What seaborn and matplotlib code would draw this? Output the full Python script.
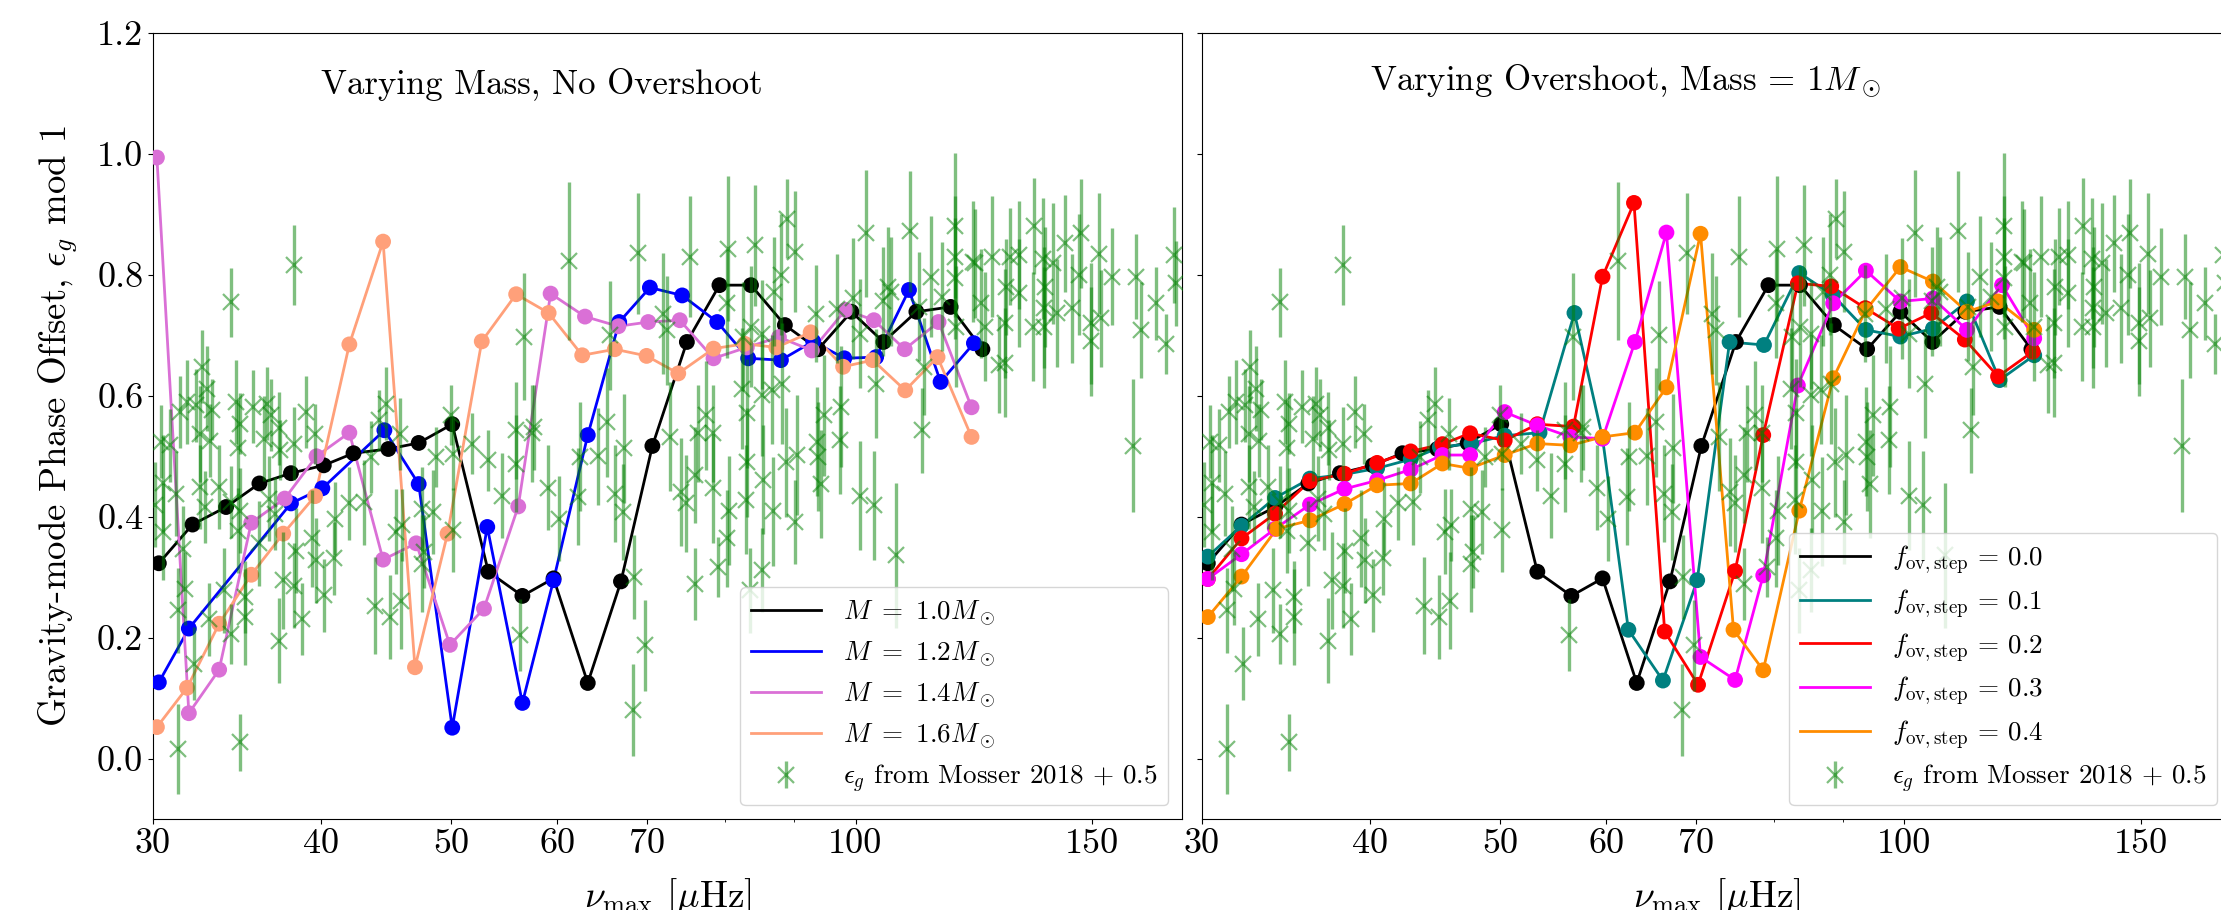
import numpy as np
import pandas as pd
import matplotlib
matplotlib.use("Agg")
import matplotlib.pyplot as plt
import seaborn as sns
from matplotlib.ticker import FixedLocator, FuncFormatter, NullFormatter

plt.rcParams['font.family'] = 'serif'
plt.rcParams['font.serif'] = ['cmr10', 'DejaVu Serif']
plt.rcParams['mathtext.fontset'] = 'cm'
plt.rcParams['axes.formatter.use_mathtext'] = True
plt.rcParams['axes.unicode_minus'] = False

################# model tracks, left panel (varying mass) #################
nu_m10 = [30.3, 32.1, 34.0, 36.0, 38.0, 40.2, 42.3, 44.9, 47.3, 50.1, 53.3, 56.5, 59.6,
          63.2, 66.9, 70.6, 74.9, 79.2, 83.6, 88.6, 93.8, 99.3, 104.9, 111.0, 117.7, 124.3]
eps_m10 = [0.323, 0.387, 0.416, 0.455, 0.472, 0.485, 0.505, 0.512, 0.522, 0.553, 0.309, 0.269, 0.298,
           0.125, 0.293, 0.517, 0.689, 0.783, 0.783, 0.717, 0.677, 0.739, 0.689, 0.739, 0.747, 0.677]

nu_m12 = [30.3, 31.9, 38.0, 40.1, 44.6, 47.3, 50.1, 53.2, 56.5, 59.6, 63.2, 66.7, 70.3,
          74.3, 78.9, 83.2, 88.0, 93.0, 98.1, 103.6, 109.6, 115.7, 122.5]
eps_m12 = [0.126, 0.215, 0.422, 0.447, 0.543, 0.454, 0.051, 0.383, 0.092, 0.295, 0.535, 0.722, 0.779,
           0.766, 0.722, 0.662, 0.659, 0.690, 0.662, 0.664, 0.775, 0.623, 0.687]

nu_m14 = [30.2, 31.9, 33.6, 35.5, 37.6, 39.7, 42.0, 44.5, 47.1, 49.9, 52.9, 56.1, 59.3, 62.9,
          66.6, 70.1, 74.0, 78.4, 83.0, 87.7, 92.8, 98.3, 103.2, 108.8, 115.3, 122.0]
eps_m14 = [0.994, 0.075, 0.147, 0.390, 0.430, 0.500, 0.539, 0.329, 0.356, 0.188, 0.248, 0.417, 0.769, 0.731,
           0.715, 0.722, 0.725, 0.662, 0.680, 0.697, 0.675, 0.742, 0.725, 0.677, 0.722, 0.581]

nu_m16 = [30.2, 31.8, 33.6, 35.5, 37.5, 39.6, 42.0, 44.5, 47.0, 49.7, 52.7, 55.9, 59.1, 62.6,
          66.2, 69.9, 73.8, 78.4, 82.7, 87.3, 92.6, 97.9, 103.0, 108.9, 115.1, 122.0]
eps_m16 = [0.052, 0.117, 0.223, 0.304, 0.372, 0.434, 0.685, 0.855, 0.151, 0.372, 0.690, 0.768, 0.737, 0.667,
           0.677, 0.666, 0.637, 0.678, 0.686, 0.680, 0.705, 0.648, 0.659, 0.609, 0.664, 0.532]

################# model tracks, right panel (varying overshoot) #################
nu_f01 = [30.3, 32.1, 34.0, 36.1, 38.3, 40.5, 42.9, 45.1, 47.6, 50.4, 53.5, 56.8, 59.6,
          62.3, 66.1, 70.1, 74.1, 78.6, 83.5, 88.4, 93.6, 99.3, 105.0, 111.3, 117.7, 124.9]
eps_f01 = [0.334, 0.385, 0.431, 0.463, 0.470, 0.480, 0.495, 0.515, 0.521, 0.534, 0.539, 0.737, 0.530,
           0.213, 0.129, 0.295, 0.689, 0.684, 0.803, 0.767, 0.709, 0.698, 0.711, 0.756, 0.626, 0.667]

nu_f02 = [30.3, 32.1, 34.0, 36.1, 38.3, 40.5, 42.9, 45.3, 47.5, 50.4, 53.3, 56.7, 59.6,
          62.9, 66.3, 70.2, 74.8, 78.5, 83.3, 88.2, 93.5, 99.0, 104.7, 110.9, 117.4, 124.6]
eps_f02 = [0.297, 0.364, 0.405, 0.459, 0.471, 0.489, 0.508, 0.520, 0.538, 0.526, 0.553, 0.549, 0.797,
           0.919, 0.210, 0.122, 0.310, 0.535, 0.786, 0.781, 0.745, 0.711, 0.737, 0.693, 0.632, 0.673]

nu_f03 = [30.3, 32.1, 34.0, 36.1, 38.3, 40.5, 42.9, 45.3, 47.5, 50.4, 53.3, 56.4, 59.6,
          63.0, 66.5, 70.5, 74.8, 78.5, 83.3, 88.5, 93.6, 99.3, 105.0, 111.3, 118.2, 124.9]
eps_f03 = [0.297, 0.338, 0.380, 0.420, 0.446, 0.460, 0.478, 0.502, 0.502, 0.573, 0.551, 0.532, 0.529,
           0.689, 0.870, 0.168, 0.130, 0.303, 0.617, 0.753, 0.807, 0.756, 0.761, 0.709, 0.783, 0.695]

nu_f04 = [30.3, 32.1, 34.1, 36.1, 38.3, 40.5, 42.9, 45.3, 47.5, 50.4, 53.3, 56.4, 59.6,
          63.0, 66.5, 70.5, 74.6, 78.5, 83.5, 88.5, 93.6, 99.3, 105.0, 111.3, 117.4, 124.9]
eps_f04 = [0.234, 0.301, 0.380, 0.394, 0.421, 0.452, 0.455, 0.488, 0.480, 0.502, 0.521, 0.518, 0.532,
           0.539, 0.614, 0.868, 0.213, 0.146, 0.410, 0.629, 0.742, 0.813, 0.789, 0.739, 0.756, 0.709]

################# Mosser 2018 observations (+0.5) #################
nu_obs = [34.3, 38.2, 32.6, 32.9, 33.2, 31.4, 31.8, 32.3, 34.6, 34.8, 35.6, 36.5, 36.7, 37.2, 39.0,
          44.7, 44.2, 50.0, 51.8, 48.7, 50.2, 53.3, 45.8, 43.6, 32.5, 33.1, 30.4, 30.9, 36.3, 38.2,
          39.6, 34.7, 37.3,
          30.5, 31.3, 34.8, 37.2, 38.7, 35.1, 34.3, 32.2, 31.3, 31.7, 31.6, 33.0, 33.9, 35.1, 37.5,
          38.2, 40.2, 40.9, 39.7, 39.4, 38.3, 36.0, 34.7, 30.5, 31.2, 32.5, 32.8, 33.6, 34.3, 34.8,
          36.6, 37.0, 42.0, 43.1, 41.0, 43.9, 45.0, 45.9, 45.5, 46.0, 47.6, 48.5, 47.6, 50.2, 47.7,
          30.1,
          61.2, 68.9, 75.3, 80.4, 84.2, 88.9, 90.2, 88.0, 86.9, 56.7, 71.9, 72.4, 80.2, 93.4, 96.8,
          82.4, 83.6, 85.2, 65.7, 82.3, 83.0, 85.2, 86.7, 88.2, 72.8, 76.3, 77.4, 78.3, 65.3, 64.3,
          62.4, 67.2, 55.9, 57.4, 83.1, 88.8, 90.5, 93.6, 94.7, 97.3, 97.6, 93.8, 55.9, 57.6,
          59.0, 60.2, 62.2, 66.2, 67.1, 68.4, 69.7, 68.3, 56.3, 74.1, 74.8, 76.0, 78.3, 75.9, 79.0,
          80.5, 80.3, 82.9, 85.3, 86.8, 85.2, 83.4, 90.1, 94.2, 54.6,
          100.7, 103.2, 107.2, 160.9, 101.8, 109.7, 118.6, 118.6, 118.6, 122.3, 126.3, 130.3, 132.4,
          135.8, 137.9, 140.2, 143.2, 147.3, 151.8, 155.3, 161.6, 163.0, 167.3, 170.2, 172.5, 173.2,
          146.8, 144.9, 149.6, 149.6, 152.3, 138.1, 138.1, 138.4, 135.5, 132.3, 129.1, 129.1, 129.5,
          122.8, 124.0, 118.7, 113.8, 112.5, 112.0, 105.7, 106.3, 104.9, 103.6, 99.6, 100.8, 141.2,
          111.5, 116.0, 124.8, 127.8]
eps_obs = [0.755, 0.816, 0.648, 0.612, 0.577, 0.573, 0.590, 0.584, 0.590, 0.554, 0.582, 0.587, 0.568, 0.546, 0.573,
           0.587, 0.560, 0.568, 0.521, 0.499, 0.504, 0.493, 0.537, 0.499, 0.537, 0.526, 0.524, 0.518, 0.529, 0.521,
           0.537, 0.513, 0.510,
           0.375, 0.016, 0.027, 0.195, 0.231, 0.234, 0.206, 0.157, 0.245, 0.281, 0.347, 0.230, 0.278, 0.267, 0.295,
           0.286, 0.270, 0.331, 0.328, 0.364, 0.344, 0.356, 0.377, 0.455, 0.438, 0.449, 0.416, 0.449, 0.424, 0.410,
           0.430, 0.405, 0.422, 0.424, 0.397, 0.253, 0.234, 0.261, 0.375, 0.386, 0.413, 0.408, 0.322, 0.378, 0.342,
           0.420,
           0.823, 0.836, 0.830, 0.843, 0.849, 0.893, 0.838, 0.800, 0.772, 0.698, 0.736, 0.708, 0.753, 0.736, 0.744,
           0.698, 0.714, 0.702, 0.700, 0.612, 0.571, 0.601, 0.610, 0.620, 0.532, 0.538, 0.568, 0.538, 0.556, 0.500,
           0.499, 0.513, 0.488, 0.538, 0.490, 0.490, 0.502, 0.524, 0.568, 0.527, 0.582, 0.499, 0.543, 0.548,
           0.448, 0.397, 0.433, 0.438, 0.408, 0.300, 0.187, 0.081, 0.204, 0.441, 0.422, 0.469, 0.447, 0.289, 0.317,
           0.410, 0.364, 0.428, 0.461, 0.409, 0.312, 0.278, 0.391, 0.454, 0.435,
           0.435, 0.419, 0.336, 0.517, 0.869, 0.872, 0.881, 0.830, 0.794, 0.822, 0.830, 0.830, 0.833,
           0.881, 0.827, 0.819, 0.852, 0.869, 0.835, 0.797, 0.797, 0.709, 0.753, 0.686, 0.833, 0.786,
           0.800, 0.745, 0.720, 0.690, 0.728, 0.746, 0.713, 0.780, 0.714, 0.770, 0.720, 0.655, 0.780,
           0.819, 0.753, 0.714, 0.797, 0.648, 0.543, 0.780, 0.772, 0.756, 0.620, 0.761, 0.703, 0.737,
           0.747, 0.764, 0.714, 0.651]
err_obs = [0.057, 0.066, 0.06, 0.07, 0.05, 0.06, 0.07, 0.06, 0.07, 0.05, 0.06, 0.06, 0.06, 0.06, 0.06,
           0.06, 0.05, 0.05, 0.05, 0.05, 0.06, 0.05, 0.06, 0.06, 0.08, 0.06, 0.06, 0.06, 0.07, 0.06,
           0.05, 0.08, 0.05,
           0.08, 0.075, 0.047, 0.07, 0.06, 0.08, 0.05, 0.06, 0.07, 0.06, 0.07, 0.06, 0.07, 0.06, 0.08,
           0.07, 0.06, 0.06, 0.07, 0.08, 0.07, 0.07, 0.07, 0.08, 0.07, 0.07, 0.06, 0.07, 0.06, 0.07,
           0.07, 0.06, 0.06, 0.07, 0.06, 0.08, 0.07, 0.08, 0.07, 0.06, 0.07, 0.07, 0.08, 0.07, 0.06,
           0.07,
           0.13, 0.10, 0.10, 0.12, 0.10, 0.065, 0.10, 0.10, 0.09, 0.105, 0.10, 0.09, 0.09, 0.08, 0.09,
           0.09, 0.10, 0.09, 0.09, 0.10, 0.09, 0.10, 0.09, 0.10, 0.09, 0.08, 0.09, 0.08, 0.09, 0.08,
           0.09, 0.09, 0.08, 0.08, 0.09, 0.09, 0.10, 0.09, 0.10, 0.09, 0.10, 0.09, 0.08, 0.07,
           0.07, 0.07, 0.08, 0.08, 0.08, 0.07, 0.076, 0.076, 0.06, 0.09, 0.08, 0.08, 0.09, 0.06, 0.05,
           0.09, 0.08, 0.09, 0.09, 0.09, 0.07, 0.07, 0.07, 0.09, 0.07,
           0.09, 0.09, 0.12, 0.11, 0.105, 0.10, 0.12, 0.10, 0.10, 0.10, 0.10, 0.08, 0.09,
           0.08, 0.10, 0.10, 0.08, 0.09, 0.10, 0.08, 0.07, 0.08, 0.06, 0.05, 0.08, 0.07,
           0.10, 0.09, 0.10, 0.09, 0.08, 0.10, 0.10, 0.10, 0.09, 0.09, 0.09, 0.09, 0.08,
           0.09, 0.09, 0.10, 0.10, 0.08, 0.07, 0.10, 0.09, 0.09, 0.09, 0.10, 0.09, 0.09,
           0.09, 0.09, 0.09, 0.08]

xticks = [30, 40, 50, 60, 70, 100, 150]
obs_label = r'$\epsilon_g$ from Mosser 2018 + 0.5'

left_models = [(nu_m10, eps_m10, 'black', r'$M\ =\ 1.0M_\odot$'),
               (nu_m12, eps_m12, 'blue', r'$M\ =\ 1.2M_\odot$'),
               (nu_m14, eps_m14, 'orchid', r'$M\ =\ 1.4M_\odot$'),
               (nu_m16, eps_m16, 'lightsalmon', r'$M\ =\ 1.6M_\odot$')]
right_models = [(nu_m10, eps_m10, 'black', r'$f_{\rm ov,step}$ = 0.0'),
                (nu_f01, eps_f01, 'teal', r'$f_{\rm ov,step}$ = 0.1'),
                (nu_f02, eps_f02, 'red', r'$f_{\rm ov,step}$ = 0.2'),
                (nu_f03, eps_f03, 'magenta', r'$f_{\rm ov,step}$ = 0.3'),
                (nu_f04, eps_f04, 'darkorange', r'$f_{\rm ov,step}$ = 0.4')]


def draw_panel(ax, models):
    for nu, eps, col, lab in models:
        df = pd.DataFrame({'nu': nu, 'eps': eps})
        sns.lineplot(data=df, x='nu', y='eps', color=col, lw=2, label=lab,
                     sort=False, estimator=None, ax=ax)
        sns.scatterplot(data=df, x='nu', y='eps', color=col, s=130,
                        edgecolor='none', ax=ax, zorder=3)
    ax.errorbar(nu_obs, eps_obs, yerr=err_obs, fmt='x', color='green', alpha=0.5,
                ms=11, mew=1.6, elinewidth=2.4, label=obs_label, zorder=4)
    ax.set_xscale('log')
    ax.set_xlim(30, 175)
    ax.set_ylim(-0.1, 1.2)
    ax.xaxis.set_major_locator(FixedLocator(xticks))
    ax.xaxis.set_major_formatter(FuncFormatter(lambda v, p: '%g' % v))
    ax.xaxis.set_minor_formatter(NullFormatter())
    ax.set_yticks([0.0, 0.2, 0.4, 0.6, 0.8, 1.0, 1.2])
    ax.tick_params(labelsize=26)
    ax.set_xlabel(r'$\nu_{\rm max}$ [$\mu$Hz]', fontsize=27, labelpad=12)
    ax.legend(loc='lower right', fontsize=19.5, handlelength=2.6, labelspacing=0.42)


fig = plt.figure(figsize=(22.21, 9.10), dpi=100)
ax1 = fig.add_axes([0.0689, 0.1, 0.4633, 0.8637])
ax2 = fig.add_axes([0.5412, 0.1, 0.4633, 0.8637], sharey=ax1)

draw_panel(ax1, left_models)
draw_panel(ax2, right_models)

ax1.yaxis.set_major_formatter(FuncFormatter(lambda v, p: '%.1f' % v))
ax1.set_ylabel(r'Gravity-mode Phase Offset, $\epsilon_g$ mod 1', fontsize=26.5, labelpad=12)
ax2.set_ylabel('')
ax2.tick_params(labelleft=False)

ax1.text(40, 1.115, 'Varying Mass, No Overshoot', fontsize=25, va='center')
ax2.text(40, 1.12, r'Varying Overshoot, Mass = $1M_\odot$', fontsize=25, va='center')

fig.savefig('out.png', dpi=100)
